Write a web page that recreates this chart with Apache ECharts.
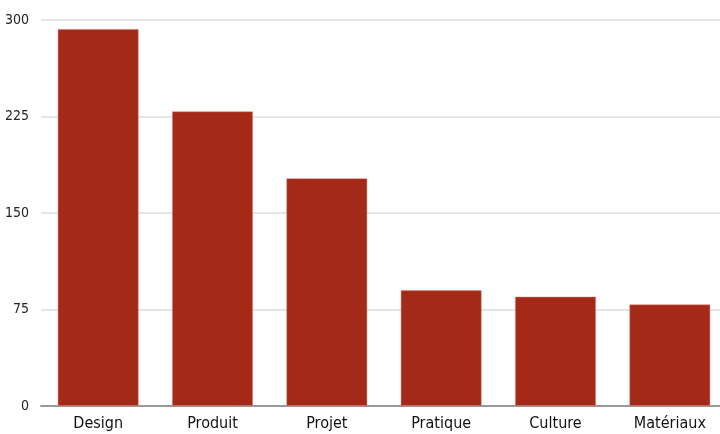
<!DOCTYPE html>
<html><head><meta charset="utf-8">
<script src="https://cdn.jsdelivr.net/npm/echarts@6/dist/echarts.min.js"></script>
<style>html,body{margin:0;padding:0;background:#fff}#c{width:720px;height:434px}</style>
</head><body><div id="c"></div>
<script>
const categories = ['Design','Produit','Projet','Pratique','Culture','Matériaux'];
const values = [293, 229, 177, 90, 85, 79];
const yTicks = [0, 75, 150, 225, 300];

const font = '"DejaVu Sans Condensed","Liberation Sans Narrow",sans-serif';
const chart = echarts.init(document.getElementById('c'), null, {renderer:'canvas'});
chart.setOption({
  animation:false,
  grid:{left:41, right:-7, top:20, bottom:28, containLabel:false, outerBoundsMode:'none'},
  xAxis:{type:'category', data:categories,
    axisLine:{lineStyle:{color:'#999', width:2}}, axisTick:{show:false},
    axisLabel:{color:'#111', fontSize:16, fontFamily:font, margin:10}},
  yAxis:{type:'value', min:yTicks[0], max:yTicks[yTicks.length-1], interval:75,
    axisLine:{show:false}, axisTick:{show:false},
    splitLine:{lineStyle:{color:'#dcdcdc', width:1.5}},
    axisLabel:{color:'#222', fontSize:14, fontFamily:font, margin:12}},
  series:[{type:'bar', data:values, barWidth:81,
    itemStyle:{color:'#a42a17', borderColor:'rgba(220,130,120,0.6)', borderWidth:0.8}}]
});
</script></body></html>
